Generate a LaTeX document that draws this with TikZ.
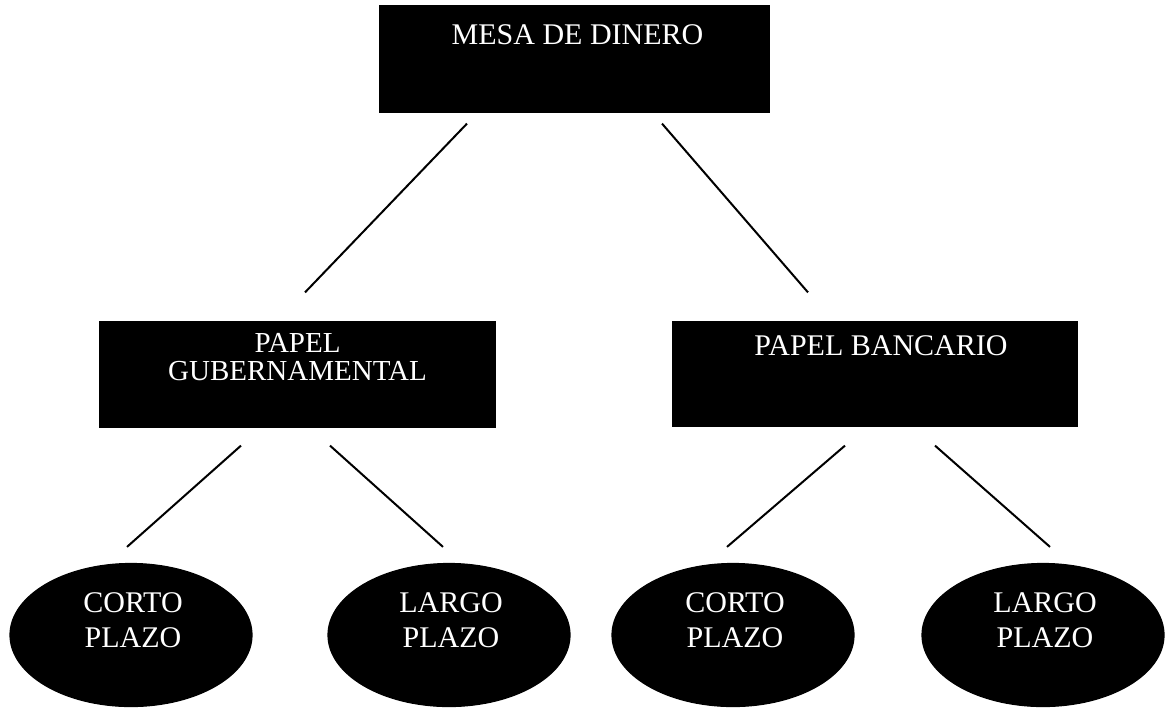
\documentclass[tikz,border=0pt]{standalone}
\usepackage{fontspec}
\setmainfont{Liberation Serif}
\usetikzlibrary{shapes.geometric,calc}
\begin{document}
\begin{tikzpicture}[x=1pt,y=-1pt,
  box/.style={draw=black,fill=black,line width=1.2pt,inner sep=0pt},
  oval/.style={ellipse,draw=black,fill=black,line width=1.2pt,inner sep=0pt,minimum width=242pt,minimum height=143pt},
  lbl/.style={text=white,font=\fontsize{30}{30}\selectfont,align=center,inner sep=0pt},
  link/.style={line width=2pt,black}]
\useasboundingbox (0,0) rectangle (1166,716);
% boxes
\node[box,minimum width=389pt,minimum height=106pt] (top) at (574.5,59) {};
\node[box,minimum width=395pt,minimum height=105pt] (gub) at (297.5,374.5) {};
\node[box,minimum width=404pt,minimum height=104pt] (ban) at (875,374) {};
% ellipses
\node[oval] (e1) at (131,635) {};
\node[oval] (e2) at (449,635) {};
\node[oval] (e3) at (733,635) {};
\node[oval] (e4) at (1043,635) {};
% texts
\node[lbl] (ttop) at ($(top.north)+(3,29)$) {MESA DE DINERO};
\node[lbl,font=\fontsize{29}{28}\selectfont] (tgub) at ($(gub.north)+(0,36)$) {PAPEL\\GUBERNAMENTAL};
\node[lbl] (tban) at ($(ban.north)+(6,24)$) {PAPEL BANCARIO};
\node[lbl,font=\fontsize{30}{35}\selectfont] (t1) at ($(e1.center)+(2,-15)$) {CORTO\\PLAZO};
\node[lbl,font=\fontsize{30}{35}\selectfont] (t2) at ($(e2.center)+(2,-15)$) {LARGO\\PLAZO};
\node[lbl,font=\fontsize{30}{35}\selectfont] (t3) at ($(e3.center)+(2,-15)$) {CORTO\\PLAZO};
\node[lbl,font=\fontsize{30}{35}\selectfont] (t4) at ($(e4.center)+(2,-15)$) {LARGO\\PLAZO};
% connectors
\draw[link] ($(top.south)+(-107.5,11)$) -- ($(gub.north)+(7.5,-29)$);
\draw[link] ($(top.south)+(87.5,11)$) -- ($(ban.north)+(-67,-29)$);
\draw[link] ($(gub.south)+(-56.5,18)$) -- ($(e1.north)+(-4,-16)$);
\draw[link] ($(gub.south)+(32.5,18)$) -- ($(e2.north)+(-6,-16)$);
\draw[link] ($(ban.south)+(-30,19)$) -- ($(e3.north)+(-6,-16)$);
\draw[link] ($(ban.south)+(60,19)$) -- ($(e4.north)+(7,-16)$);
\end{tikzpicture}
\end{document}
